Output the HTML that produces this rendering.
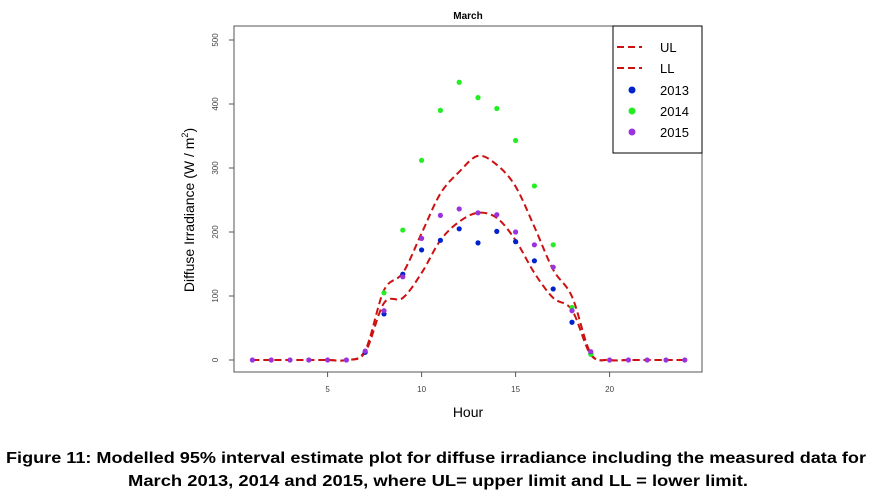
<!DOCTYPE html>
<html><head><meta charset="utf-8"><style>
body{margin:0;background:#fff;width:873px;height:499px;overflow:hidden}
svg{display:block;font-family:"Liberation Sans",sans-serif}
</style></head><body>
<svg id="chart" width="873" height="499">
<text x="468" y="19" font-size="10" font-weight="bold" text-anchor="middle">March</text>
<rect x="234" y="26" width="468" height="346" fill="none" stroke="#555" stroke-width="1"/>
<g id="yaxis"></g>
<g id="xaxis"></g>
<text transform="translate(194,210) rotate(-90)" font-size="14" text-anchor="middle">Diffuse Irradiance  (W / m<tspan dy="-6" font-size="9">2</tspan><tspan dy="6">)</tspan></text>
<text x="468" y="417" font-size="14" text-anchor="middle">Hour</text>
<g id="series"></g>
<g>
<rect x="613" y="26" width="89" height="127" fill="#fff" stroke="#000" stroke-width="1"/>
<g><line x1="617" y1="47" x2="642" y2="47" stroke="#cc1111" stroke-width="2" stroke-dasharray="7,4"/><text x="660" y="52" font-size="13">UL</text></g>
<g><line x1="617" y1="68" x2="642" y2="68" stroke="#cc1111" stroke-width="2" stroke-dasharray="7,4"/><text x="660" y="73" font-size="13">LL</text></g>
<g><circle cx="632" cy="90" r="3.5" fill="#0022cc"/><text x="660" y="95" font-size="13">2013</text></g>
<g><circle cx="632" cy="111" r="3.5" fill="#22ee22"/><text x="660" y="116" font-size="13">2014</text></g>
<g><circle cx="632" cy="132" r="3.5" fill="#9933dd"/><text x="660" y="137" font-size="13">2015</text></g>
</g>
<text x="436" y="463" font-size="16" font-weight="bold" text-anchor="middle" textLength="860" lengthAdjust="spacingAndGlyphs">Figure 11: Modelled 95% interval estimate plot for diffuse irradiance including the measured data for</text>
<text x="438" y="486" font-size="16" font-weight="bold" text-anchor="middle" textLength="620" lengthAdjust="spacingAndGlyphs">March 2013, 2014 and 2015, where UL= upper limit and LL = lower  limit.</text>
</svg>
<script>
const hours=[1,2,3,4,5,6,7,8,9,10,11,12,13,14,15,16,17,18,19,20,21,22,23,24];
const ul=[0,0,0,0,0,0,15,109,136,198,260,294,319,305,271,208,141,99,10,0,0,0,0,0];
const ll=[0,0,0,0,0,0,12,89,97,136,187,216,230,222,187,136,97,78,8,0,0,0,0,0];
const v2013=[null,null,null,null,null,null,12,72,134,172,187,205,183,201,185,155,111,59,10,null,null,null,null,null];
const v2014=[null,null,null,null,null,null,null,105,203,312,390,434,410,393,343,272,180,82,9,null,null,null,null,null];
const v2015=[0,0,0,0,0,0,14,77,130,190,226,236,230,227,200,180,145,77,13,0,0,0,0,0];
const yTicks=[0,100,200,300,400,500];
const xTicks=[5,10,15,20];
const X=h=>252.4+(h-1)*18.8;
const Y=v=>360-v*0.64;
const NS="http://www.w3.org/2000/svg";
function mk(t,a,p){const e=document.createElementNS(NS,t);for(const k in a)e.setAttribute(k,a[k]);p.appendChild(e);return e;}
const ya=document.getElementById('yaxis'),xa=document.getElementById('xaxis'),sg=document.getElementById('series');
yTicks.forEach(v=>{
 const l=mk('line',{x1:229,x2:234,y1:Y(v),y2:Y(v),stroke:'#555'},ya);
 
 
 const t=mk('text',{x:0,y:0,transform:`translate(218,${Y(v)}) rotate(-90)`,'font-size':8,'text-anchor':'middle',fill:'#444'},ya);
 t.textContent=v;
 
 
});
xTicks.forEach(h=>{
 const l=mk('line',{x1:X(h),x2:X(h),y1:372,y2:377,stroke:'#555'},xa);
 
 
 const t=mk('text',{x:X(h),y:392,'font-size':8,'text-anchor':'middle',fill:'#444'},xa);
 t.textContent=h;
 
 
});
function line(arr,name){
 const P=arr.map((v,i)=>[X(hours[i]),Y(v)]);
 let d='M'+P[0][0]+','+P[0][1];
 for(let i=0;i<P.length-1;i++){
  const p0=P[Math.max(0,i-1)],p1=P[i],p2=P[i+1],p3=P[Math.min(P.length-1,i+2)];
  const c1=[p1[0]+(p2[0]-p0[0])/6,p1[1]+(p2[1]-p0[1])/6];
  const c2=[p2[0]-(p3[0]-p1[0])/6,p2[1]-(p3[1]-p1[1])/6];
  d+=` C${c1[0]},${c1[1]} ${c2[0]},${c2[1]} ${p2[0]},${p2[1]}`;
 }
 const p=mk('path',{d:d,fill:'none',stroke:'#cc1111','stroke-width':2,'stroke-dasharray':'7,4'},sg);
 
 
}
line(ul,'ul-line');line(ll,'ll-line');
function pts(arr,col,name){
 arr.forEach((v,i)=>{if(v===null)return;
  const c=mk('circle',{cx:X(hours[i]),cy:Y(v),r:2.6,fill:col},sg);
  
  
 });
}
pts(v2013,'#0022cc','point-2013');pts(v2014,'#22ee22','point-2014');pts(v2015,'#9933dd','point-2015');
</script>
</body></html>
